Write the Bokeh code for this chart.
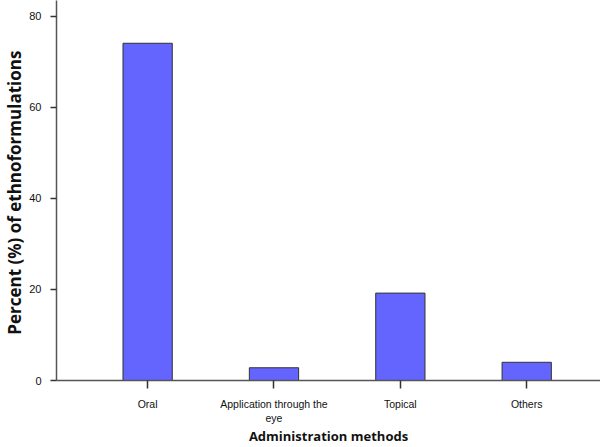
from bokeh.plotting import figure
from bokeh.models import ColumnDataSource, FixedTicker, Range1d
from bokeh.embed import file_html
from bokeh.resources import INLINE

# --- data ---
categories = ["Oral", "Application through the\neye", "Topical", "Others"]
percents = [74.1, 2.8, 19.2, 4.0]
y_ticks = [0, 20, 40, 60, 80]

positions = list(range(1, len(categories) + 1))
source = ColumnDataSource(dict(x=positions, top=percents))

X0, X1 = 0.2788, 4.584

p = figure(width=600, height=447, output_backend="svg", toolbar_location=None,
           x_range=Range1d(X0, X1), y_range=Range1d(0, 83.5),
           min_border_left=55, min_border_right=0, min_border_top=0, min_border_bottom=67)

p.vbar(x="x", top="top", width=0.39, source=source,
       fill_color="#6464FF", line_color="#333333", line_width=1)

p.outline_line_color = None
p.grid.visible = False
p.background_fill_color = "white"

# x axis
xa = p.xaxis[0]
xa.ticker = FixedTicker(ticks=positions)
xa.major_label_overrides = {pos: lab for pos, lab in zip(positions, categories)}
xa.major_tick_out = 8
xa.major_tick_in = 0
xa.minor_tick_line_color = None
xa.axis_line_color = "#555555"
xa.axis_line_width = 1.5
xa.major_tick_line_color = "#333333"
xa.major_tick_line_width = 1.5
xa.major_label_text_font = "Liberation Sans"
xa.major_label_text_font_size = "10.5px"
xa.major_label_text_color = "#111111"
xa.major_label_standoff = 9
xa.axis_label = "Administration methods"
xa.axis_label_text_font = "Open Sans"
xa.axis_label_text_font_style = "bold"
xa.axis_label_text_font_size = "13px"
xa.axis_label_text_color = "#111111"
xa.axis_label_standoff = 0

# y axis
ya = p.yaxis[0]
ya.ticker = FixedTicker(ticks=y_ticks)
ya.major_tick_out = 6
ya.major_tick_in = 0
ya.minor_tick_line_color = None
ya.axis_line_color = "#555555"
ya.axis_line_width = 1.5
ya.major_tick_line_color = "#333333"
ya.major_tick_line_width = 1.5
ya.major_label_text_font = "Liberation Sans"
ya.major_label_text_font_size = "11px"
ya.major_label_text_color = "#111111"
ya.major_label_standoff = 9
ya.axis_label = "Percent  (%) of ethnoformulations"
ya.axis_label_text_font = "Open Sans"
ya.axis_label_text_font_style = "bold"
ya.axis_label_text_font_size = "17px"
ya.axis_label_text_color = "#111111"
ya.axis_label_standoff = 0

open("out.html", "w").write(file_html(p, INLINE))
